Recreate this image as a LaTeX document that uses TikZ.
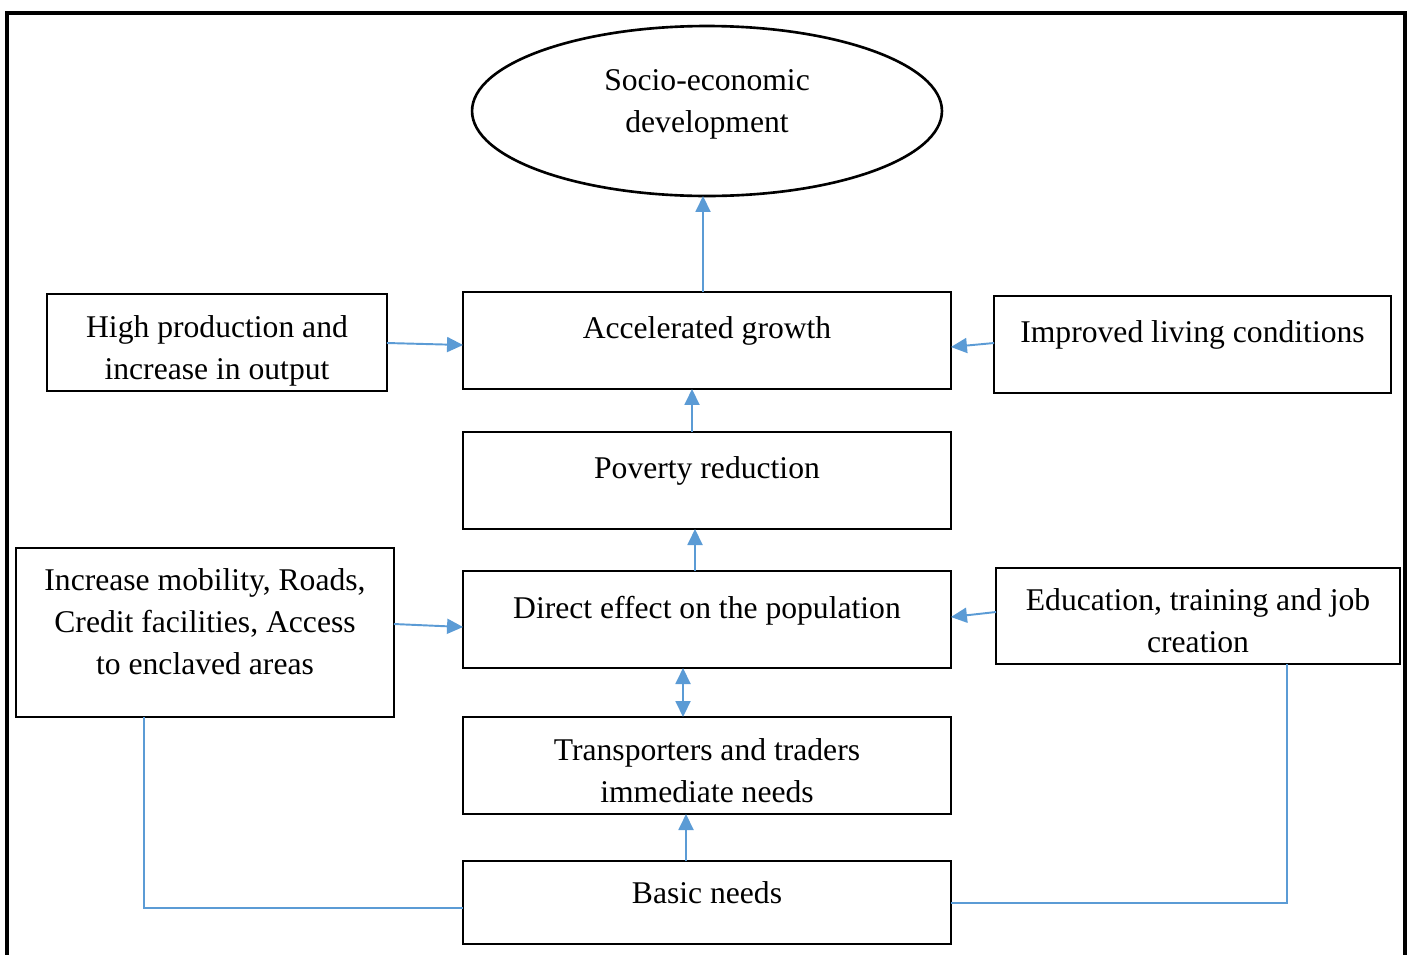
\documentclass[tikz,border=0pt]{standalone}
\usepackage{fontspec}
\setmainfont{Liberation Serif}
\usetikzlibrary{arrows.meta,shapes.geometric}
\definecolor{arrowblue}{HTML}{5B9BD5}
\begin{document}
\begin{tikzpicture}[x=0.02cm,y=-0.02cm,
	box/.style={draw,line width=1.5pt,rectangle,outer sep=0pt,minimum height=1.94cm},
	lbl/.style={anchor=north,inner sep=0pt,align=center,font=\fontsize{18}{24}\selectfont},
	flow/.style={draw=arrowblue,line width=1.1pt,-{Triangle[length=0.32cm,width=0.3cm]}},
	link/.style={draw=arrowblue,line width=0.6pt}]
	\useasboundingbox (0,0) rectangle (1412,954);
	\clip (0,0) rectangle (1412,954);
	\draw[line width=2.2pt] (7,13) rectangle (1405,990);
	% nodes
	\node[draw,line width=1.5pt,ellipse,outer sep=0pt,minimum width=9.4cm,minimum height=3.4cm] (soc) at (707,111) {};
	\node[box,minimum width=9.76cm] (acc) at (707,340.5) {};
	\node[box,minimum width=6.8cm] (high) at (217,342.5) {};
	\node[box,minimum width=7.94cm] (impr) at (1192.5,344.5) {};
	\node[box,minimum width=9.76cm] (pov) at (707,480.5) {};
	\node[box,minimum width=9.76cm] (dir) at (707,619.5) {};
	\node[box,minimum width=7.56cm,minimum height=3.38cm] (mob) at (205,632.5) {};
	\node[box,minimum width=8.08cm,minimum height=1.92cm] (edu) at (1198,616) {};
	\node[box,minimum width=9.76cm] (trans) at (707,765.5) {};
	\node[box,minimum width=9.76cm,minimum height=1.66cm] (basic) at (707,902.5) {};
	% texts
	\node[lbl] (soctext) at ([yshift=-0.86cm]soc.north) {Socio-economic\\development};
	\node[lbl] (acctext) at ([yshift=-0.49cm]acc.north) {Accelerated growth};
	\node[lbl] (hightext) at ([yshift=-0.42cm]high.north) {High production and\\increase in output};
	\node[lbl] (imprtext) at ([yshift=-0.49cm]impr.north) {Improved living conditions};
	\node[lbl] (povtext) at ([yshift=-0.49cm]pov.north) {Poverty reduction};
	\node[lbl] (mobtext) at ([yshift=-0.4cm]mob.north) {Increase mobility, Roads,\\Credit facilities, Access\\to enclaved areas};
	\node[lbl] (dirtext) at ([yshift=-0.49cm]dir.north) {Direct effect on the population};
	\node[lbl] (edutext) at ([yshift=-0.41cm]edu.north) {Education, training and job\\creation};
	\node[lbl] (transtext) at ([yshift=-0.43cm]trans.north) {Transporters and traders\\immediate needs};
	\node[lbl] (basictext) at ([yshift=-0.41cm]basic.north) {Basic needs};
	% arrows
	\draw[flow] ([xshift=-0.08cm]acc.north) -- ([xshift=-0.08cm]soc.south);
	\draw[flow] ([yshift=-0.01cm]high.east) -- ([yshift=-0.09cm]acc.west);
	\draw[flow] ([yshift=0.03cm]impr.west) -- ([yshift=-0.13cm]acc.east);
	\draw[flow] ([xshift=-0.3cm]pov.north) -- ([xshift=-0.3cm]acc.south);
	\draw[flow] ([xshift=-0.24cm]dir.north) -- ([xshift=-0.24cm]pov.south);
	\draw[flow] ([yshift=0.17cm]mob.east) -- ([yshift=-0.15cm]dir.west);
	\draw[flow] ([yshift=0.08cm]edu.west) -- ([yshift=0.05cm]dir.east);
	\draw[flow,{Triangle[length=0.32cm,width=0.3cm]}-{Triangle[length=0.32cm,width=0.3cm]}] ([xshift=-0.48cm]dir.south) -- ([xshift=-0.48cm]trans.north);
	\draw[flow] ([xshift=-0.42cm]basic.north) -- ([xshift=-0.42cm]trans.south);
	% lines to basic needs
	\draw[link] ([xshift=-1.22cm]mob.south) |- ([yshift=-0.11cm]basic.west);
	\draw[link] ([xshift=1.78cm]edu.south) |- ([yshift=-0.01cm]basic.east);
\end{tikzpicture}
\end{document}
